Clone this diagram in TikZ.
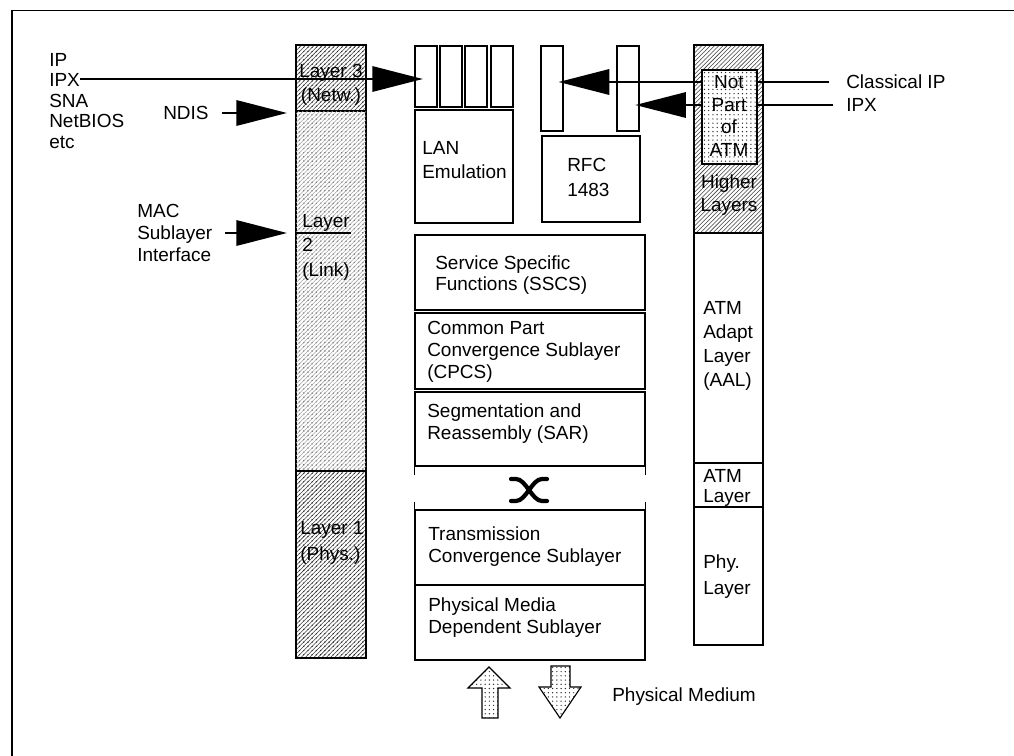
\documentclass[tikz,border=0pt]{standalone}
\usepackage{fontspec}
\setmainfont{Liberation Sans}
\usetikzlibrary{arrows.meta, fit, patterns}

\tikzset{
  box/.style={draw, line width=0.8pt, inner sep=0pt},
  lbl/.style={inner sep=0pt, align=left, font=\fontsize{13.5}{16}\selectfont},
  clbl/.style={lbl, align=center},
  bigarrow/.style={-{Triangle[length=36pt, width=18pt]}, line width=1.6pt},
  hatch/.style={pattern=north east lines, pattern color=black!75},
  dotfill/.style={pattern=dots, pattern color=black!85},
}

\begin{document}
\begin{tikzpicture}[x=0.025cm, y=-0.025cm]
  \useasboundingbox (0,0) rectangle (1014,756);
  % frame
  \draw[line width=1pt] (12,756) -- (12,10.5) -- (1014,10.5);

  % OSI column
  \node[box, hatch, postaction={dotfill}, fit={(296,45) (366,111)}] (osi3) {};
  \node[box, dotfill, postaction={pattern=north east lines, pattern color=black!35},
        fit={(296,111) (366,471)}] (osi2) {};
  \node[box, hatch, postaction={dotfill}, fit={(296,471) (366,658)}] (osi1) {};
  \draw[line width=0.8pt] (296,233) -- (351,233);
  \node[clbl, font=\fontsize{13.5}{17}\selectfont] (l3txt) at (331,85) {Layer 3\\(Netw.)};
  \node[lbl, anchor=west, font=\fontsize{13.5}{17.4}\selectfont] (l2txt) at (302,247) {Layer\\2\\(Link)};
  \node[lbl, anchor=west, font=\fontsize{13.5}{19}\selectfont] (l1txt) at (300,543) {Layer 1\\(Phys.)};

  % left labels
  \node[lbl, anchor=west, font=\fontsize{13.5}{14.6}\selectfont] (proto) at (49,101)
    {IP\\IPX\\SNA\\NetBIOS\\etc};
  \coordinate (ipxend) at (80,79);
  \node[lbl, anchor=west] (ndis) at (163,113) {NDIS};
  \node[lbl, anchor=west, font=\fontsize{13.5}{15.6}\selectfont] (mac) at (137,233)
    {MAC\\Sublayer\\Interface};

  % LAN emulation
  \foreach \i/\x in {1/415,2/440,3/465,4/491}
    \node[box, fit={(\x,46) (\x+22,107)}] (lan\i) {};
  \node[box, fit={(415,110) (513,223)}] (lane) {};
  \node[lbl, anchor=west, font=\fontsize{13.5}{17}\selectfont] at (422,160) {LAN\\Emulation};

  % RFC 1483
  \node[box, fit={(541,46) (563,131)}] (rfc1) {};
  \node[box, fit={(617,46) (639,131)}] (rfc2) {};
  \node[box, fit={(542,136) (640,222)}] (rfc) {};
  \node[lbl, anchor=west, font=\fontsize{13.5}{17.8}\selectfont] at (567,177) {RFC\\1483};

  % arrows from the left
  \draw[bigarrow, shorten >=-6pt] (ipxend) -- (ipxend -| lan1.west);
  \draw[bigarrow, shorten >=6pt] ([xshift=9pt]ndis.east) -- (ndis.east -| osi2.west);
  \draw[bigarrow, shorten >=6pt] ([xshift=9pt]mac.east) -- (mac.east -| osi2.west);

  % ATM column
  \node[box, hatch, fit={(694,45) (763,233)}] (higher) {};
  \node[box, fit={(694,233) (763,463)}] (aal) {};
  \node[box, fit={(694,463) (763,507)}] (atml) {};
  \node[box, fit={(694,507) (763,645)}] (phyl) {};

  % arrows from the right
  \node[lbl, anchor=west] (cip) at (846,82) {Classical IP};
  \node[lbl, anchor=west] (ipx) at (846,105) {IPX};
  \draw[bigarrow, shorten >=-3.5pt] ([xshift=-12pt]cip.west) -- (cip.west -| rfc1.east);
  \draw[bigarrow, shorten >=-3pt] ([xshift=-9pt]ipx.west) -- (ipx.west -| rfc2.east);
  \node[box, fill=white, postaction={dotfill}, fit={(702,70) (757,164)}] (notatm) {};
  \node[clbl, font=\fontsize{13.5}{16.3}\selectfont] at (729,116) {Not\\Part\\of\\ATM};
  \node[clbl, font=\fontsize{13.5}{16.3}\selectfont] at (729,195.5) {Higher\\Layers};
  \node[lbl, anchor=west, font=\fontsize{13.5}{17}\selectfont] at (703,346) {ATM\\Adapt\\Layer\\(AAL)};
  \node[lbl, anchor=west, font=\fontsize{13.5}{14.2}\selectfont] at (703,488) {ATM\\Layer};
  \node[lbl, anchor=west, font=\fontsize{13.5}{19}\selectfont] at (703,576.5) {Phy.\\Layer};

  % AAL sublayers
  \node[box, fit={(415,235) (645,310)}] (sscs) {};
  \node[box, fit={(415,313) (645,389)}] (cpcs) {};
  \node[box, fit={(415,392) (645,466)}] (sar) {};
  \node[box, fit={(415,510) (645,585)}] (tc) {};
  \node[box, fit={(415,585) (645,660)}] (pmd) {};
  \node[lbl, anchor=west, font=\fontsize{13.5}{14.5}\selectfont] at (435,275)
    {Service Specific\\Functions (SSCS)};
  \node[lbl, anchor=west, font=\fontsize{13.5}{15.6}\selectfont] at (427,352)
    {Common Part\\Convergence Sublayer\\(CPCS)};
  \node[lbl, anchor=west, font=\fontsize{13.5}{15.6}\selectfont] at (427,424)
    {Segmentation and\\Reassembly (SAR)};
  \node[lbl, anchor=west, font=\fontsize{13.5}{15.6}\selectfont] at (428,547)
    {Transmission\\Convergence Sublayer};
  \node[lbl, anchor=west, font=\fontsize{13.5}{15.6}\selectfont] at (428,618)
    {Physical Media\\Dependent Sublayer};

  % ATM layer gap
  \draw[line width=0.8pt, dash pattern=on 6pt off 19pt] (sar.south west) -- (tc.north west);
  \draw[line width=0.8pt, dash pattern=on 6pt off 19pt] (sar.south east) -- (tc.north east);
  \draw[line width=3pt, line cap=round]
    (511,479) -- (516,479) .. controls (526,479) and (532,501) .. (542,501) -- (547,501);
  \draw[line width=3pt, line cap=round]
    (511,501) -- (516,501) .. controls (526,501) and (532,479) .. (542,479) -- (547,479);

  % physical medium
  \draw[line width=0.8pt, dotfill] (482,718) -- (482,688) -- (468,688) -- (489,667)
    -- (510,688) -- (498,688) -- (498,718) -- cycle;
  \draw[line width=0.8pt, dotfill] (551,666) -- (570,666) -- (570,687) -- (581,687)
    -- (560,718) -- (539,687) -- (551,687) -- cycle;
  \node[lbl, anchor=west] (pm) at (612,697) {Physical Medium};
\end{tikzpicture}
\end{document}
